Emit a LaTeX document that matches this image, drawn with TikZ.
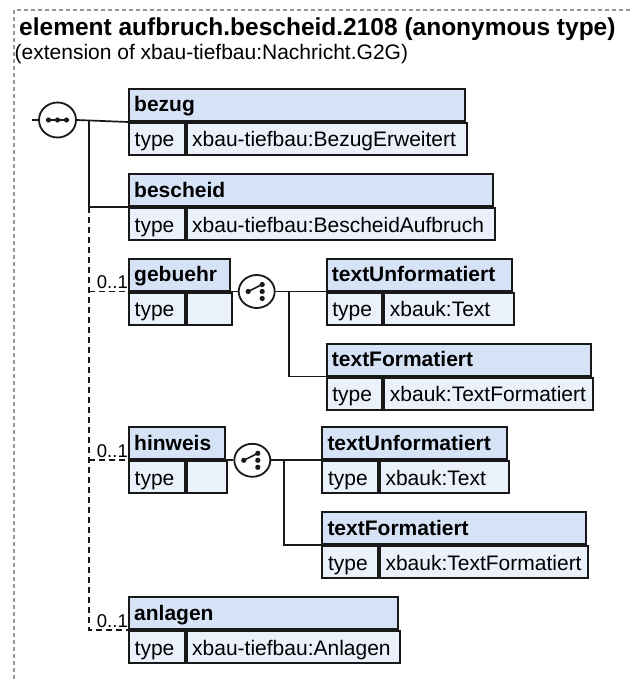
\documentclass[tikz,border=0pt]{standalone}
\usepackage{fontspec}
\setmainfont{Liberation Sans}
\usetikzlibrary{shapes.geometric,calc}

\definecolor{hdrblue}{RGB}{214,227,247}
\definecolor{rowblue}{RGB}{234,241,251}
\definecolor{framegray}{RGB}{150,150,150}
\definecolor{ink}{RGB}{25,25,25}

\tikzset{
  hdr/.style={draw=ink, line width=2pt, fill=hdrblue, anchor=north west, minimum height=32pt, inner sep=0pt},
  row/.style={draw=ink, line width=2pt, fill=rowblue, anchor=north west, minimum height=32pt, inner sep=0pt},
  lbl/.style={anchor=base west, inner sep=0pt, font=\fontsize{21}{25}\selectfont},
  hlbl/.style={anchor=base west, inner sep=0pt, font=\fontsize{21}{25}\selectfont\bfseries},
  card/.style={anchor=base east, inner sep=0pt, font=\fontsize{18.5}{22}\selectfont},
  conn/.style={draw=ink, line width=1.7pt},
  opt/.style={conn, dash pattern=on 6pt off 4pt},
  outline/.style={draw=framegray, line width=1.1pt, dash pattern=on 4pt off 3pt},
  comp/.style={ellipse, draw=ink, line width=1.8pt, fill=white, minimum width=36pt, minimum height=33pt, inner sep=0pt},
}

% element box: name, x, y, width, header, type value
\newcommand{\elembox}[6]{%
  \pgfmathsetmacro{\valw}{#4-55.5}
  \node[hdr, minimum width=#4pt] (#1) at (#2,#3) {};
  \node[row, minimum width=55.5pt] (#1-t) at (#1.south west) {};
  \node[row, minimum width=\valw pt] (#1-v) at (#1-t.north east) {};
  \node[hlbl] (#1-l) at ([xshift=6pt,yshift=10pt]#1.south west) {#5};
  \node[lbl] (#1-tl) at ([xshift=6.5pt,yshift=9pt]#1-t.south west) {type};
  \node[lbl] (#1-vl) at ([xshift=6.5pt,yshift=9pt]#1-v.south west) {#6};
}

\begin{document}
\begin{tikzpicture}[x=1pt,y=-1pt]
\useasboundingbox (0,0) rectangle (631,679);

\draw[outline] (14,679) -- (14,10) -- (631,10);

\node[anchor=base west, inner sep=0pt, font=\fontsize{24.5}{29}\selectfont\bfseries] (title) at (19,36) {element aufbruch.bescheid.2108 (anonymous type)};
\node[lbl] (sub) at (14.5,60) {(extension of xbau-tiefbau:Nachricht.G2G)};

% sequence
\coordinate (in) at (32,120);
\node[comp, minimum width=37pt, minimum height=35pt] (seq) at (57.5,120) {};
\draw[conn] (seq.center) ++(-9.5,0) -- ++(19,0);
\foreach \dx in {-9,0,9}
  \fill[ink] ($(seq)+(\dx,0)$) circle (2.6pt);

\elembox{bezug}{128}{88}{336}{bezug}{xbau-tiefbau:BezugErweitert}
\elembox{bescheid}{128}{173}{364}{bescheid}{xbau-tiefbau:BescheidAufbruch}
\elembox{gebuehr}{128}{257.5}{100.7}{gebuehr}{}
\elembox{hinweis}{128}{426.3}{96.3}{hinweis}{}
\elembox{anlagen}{128}{596}{268.7}{anlagen}{xbau-tiefbau:Anlagen}

\elembox{tu1}{325.7}{257.5}{185}{textUnformatiert}{xbauk:Text}
\elembox{tf1}{325.7}{342.5}{264}{textFormatiert}{xbauk:TextFormatiert}
\elembox{tu2}{321.3}{426.3}{185}{textUnformatiert}{xbauk:Text}
\elembox{tf2}{321.3}{511.3}{264}{textFormatiert}{xbauk:TextFormatiert}

\coordinate (bus) at (89.3,120);
\draw[conn] (in) -- (seq.west);
\draw[conn] (seq.east) -- (bezug.south west);
\draw[conn] (bus) |- (bescheid.south west);
\draw[opt] (bus |- bescheid.south west) -- (bus |- anlagen.south west) -- (anlagen.south west);
\draw[opt] (bus |- gebuehr.south west) -- (gebuehr.south west);
\draw[opt] (bus |- hinweis.south west) -- (hinweis.south west);

\node[card] (gebuehr-c) at ([yshift=3pt]gebuehr.south west) {0..1};
\node[card] (hinweis-c) at ([yshift=3pt]hinweis.south west) {0..1};
\node[card] (anlagen-c) at ([yshift=3pt]anlagen.south west) {0..1};

% choices
\node[comp] (ch1) at ([xshift=26pt]gebuehr.south east) {};
\node[comp] (ch2) at ([xshift=26pt]hinweis.south east) {};
\coordinate (br1) at ([xshift=58pt]gebuehr.south east);
\coordinate (br2) at ([xshift=58pt]hinweis.south east);

\draw[conn] (gebuehr.south east) -- (ch1.west);
\draw[conn] (ch1.east) -- (tu1.south west);
\draw[conn] (br1) |- (tf1.south west);
\draw[conn] (hinweis.south east) -- (ch2.west);
\draw[conn] (ch2.east) -- (tu2.south west);
\draw[conn] (br2) |- (tf2.south west);

\foreach \c in {ch1,ch2}{
  \draw[conn, line width=1.6pt] ($(\c)+(-8.5,0)$) -- ($(\c)+(5.5,-7)$);
  \fill[ink] ($(\c)+(-8.5,0)$) circle (2.6pt);
  \foreach \dy in {-7,0,7}
    \fill[ink] ($(\c)+(5.5,\dy)$) circle (2.6pt);
}

\end{tikzpicture}
\end{document}
